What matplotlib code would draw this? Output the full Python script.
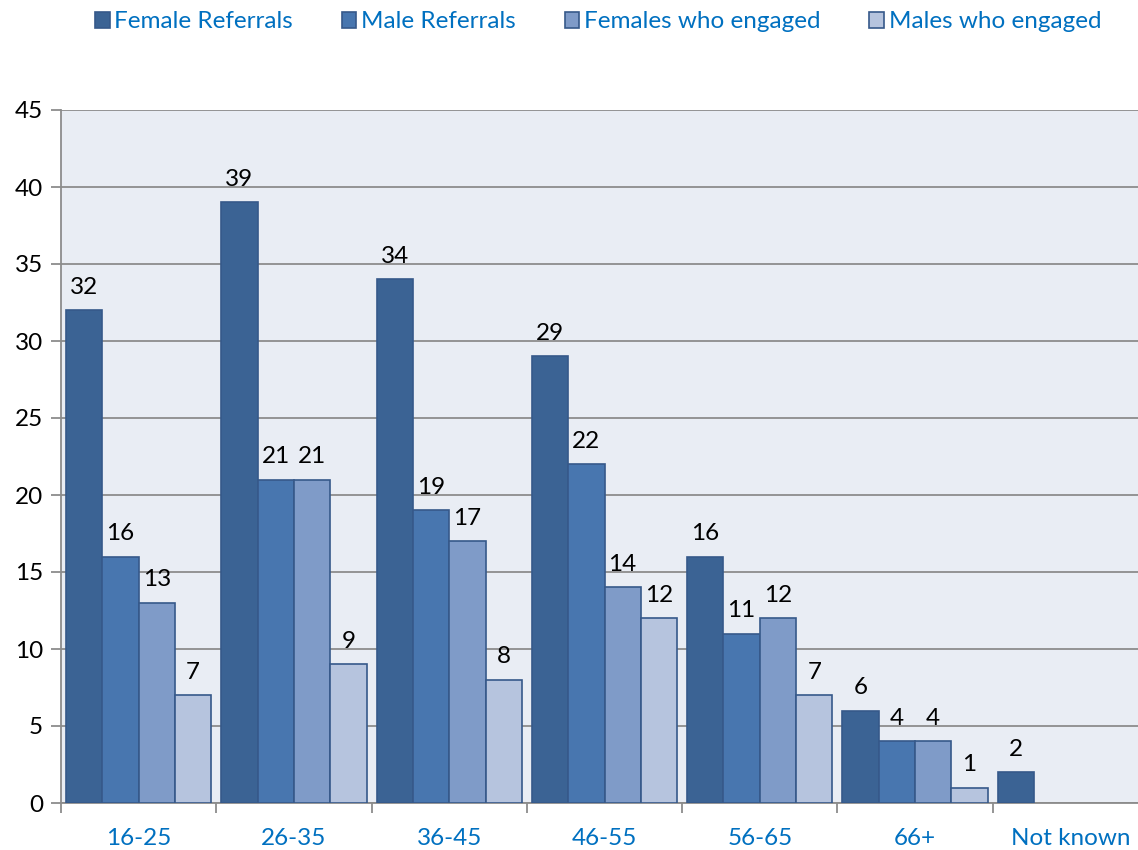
import matplotlib
matplotlib.use("Agg")
import matplotlib.pyplot as plt
import numpy as np
from matplotlib.ticker import FixedLocator, NullFormatter

categories = ["16-25", "26-35", "36-45", "46-55", "56-65", "66+", "Not known"]
series_names = ["Female Referrals", "Male Referrals", "Females who engaged", "Males who engaged"]
female_referrals = [32, 39, 34, 29, 16, 6, 2]
male_referrals = [16, 21, 19, 22, 11, 4, None]
females_engaged = [13, 21, 17, 14, 12, 4, None]
males_engaged = [7, 9, 8, 12, 7, 1, None]
series = [female_referrals, male_referrals, females_engaged, males_engaged]
colors = ["#3B6394", "#4876AF", "#7F9BC8", "#B6C4DE"]
edge = "#36598A"

plt.rcParams['font.family'] = ['Lato', 'DejaVu Sans']
FS = 17.5

W, H = 1138, 850
fig = plt.figure(figsize=(W / 100, H / 100), dpi=100)
left_px, right_px, top_px, bot_px = 61, 1148, 110, 803
ax = fig.add_axes([left_px / W, 1 - bot_px / H, (right_px - left_px) / W, (bot_px - top_px) / H])
ax.set_facecolor("#E9EDF4")

n = len(categories)
x = np.arange(n)
bw = 0.234
offsets = (np.arange(4) - 1.5) * bw
for i, (vals, col) in enumerate(zip(series, colors)):
    xs = [xi + offsets[i] for xi, v in zip(x, vals) if v is not None]
    vs = [v for v in vals if v is not None]
    bars = ax.bar(xs, vs, width=bw, color=col, edgecolor=edge, linewidth=1.2,
                  label=series_names[i], zorder=3)
    for b, v in zip(bars, vs):
        ax.annotate(str(v), (b.get_x() + b.get_width() / 2, v), xytext=(0, 9),
                    textcoords="offset points", ha="center", va="bottom",
                    fontsize=FS, color="black")

ax.set_xlim(-0.5, n - 0.5)
ax.set_ylim(0, 45)
ax.set_yticks(np.arange(0, 46, 5))
ax.yaxis.grid(True, color="#8C8C8C", linewidth=1.3, zorder=0)
ax.set_axisbelow(True)

ax.set_xticks(x)
ax.set_xticklabels(categories)
ax.xaxis.set_minor_locator(FixedLocator(np.arange(-0.5, n, 1.0)))
ax.xaxis.set_minor_formatter(NullFormatter())
ax.tick_params(axis="x", which="major", length=0, pad=18, labelsize=FS, labelcolor="#0070C0")
ax.tick_params(axis="x", which="minor", length=7, width=1.3, color="#8C8C8C")
ax.tick_params(axis="y", length=7, width=1.3, color="#8C8C8C", labelsize=FS, labelcolor="black", pad=6)

for s in ["top", "right"]:
    ax.spines[s].set_visible(False)
for s in ["left", "bottom"]:
    ax.spines[s].set_color("#8C8C8C")
    ax.spines[s].set_linewidth(1.3)

leg = fig.legend(loc="center", bbox_to_anchor=(598 / W, 1 - 22 / H), ncol=4, frameon=False,
                 fontsize=FS, handlelength=0.6, handleheight=0.6, handletextpad=0.2,
                 columnspacing=2.0)
for t in leg.get_texts():
    t.set_color("#0070C0")

fig.savefig("out.png", dpi=100)
